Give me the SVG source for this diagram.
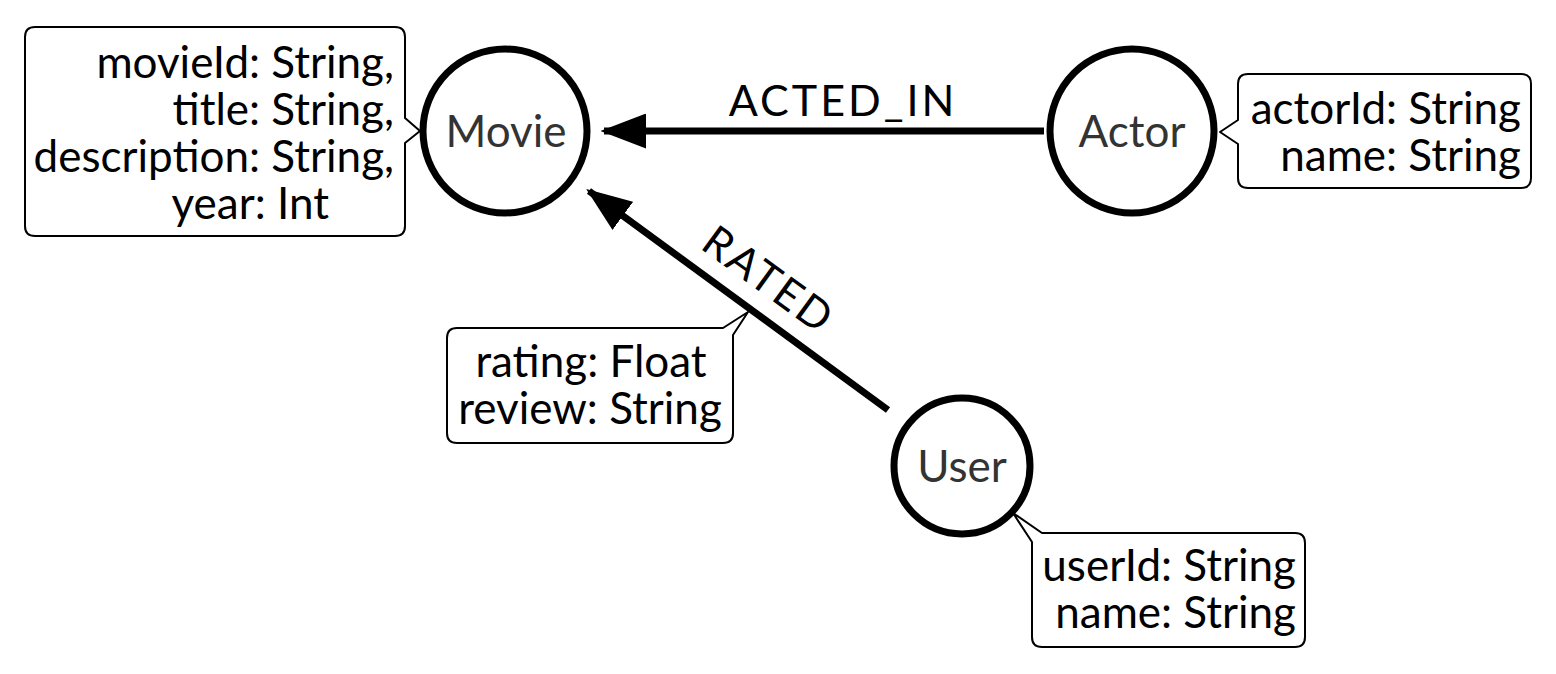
<svg xmlns="http://www.w3.org/2000/svg" width="1556" height="674" viewBox="0 0 1556 674">
<style>
.bg{fill:#ffffff}
.node circle{fill:#ffffff;stroke:#000000;stroke-width:7}
.lbl{font-family:Lato,"Liberation Sans",sans-serif;font-size:44px;fill:#333333;text-anchor:middle}
.prop{fill:#ffffff;stroke:#000000;stroke-width:2;stroke-linejoin:round}
.pt{font-family:Lato,"Liberation Sans",sans-serif;font-size:44px;fill:#000000}
.edge{stroke:#000000;stroke-width:7;fill:none}
.el{font-family:Lato,"Liberation Sans",sans-serif;font-size:43px;letter-spacing:3px;fill:#000000;text-anchor:middle}
</style>
<defs>
<marker id="arr" markerWidth="6.5" markerHeight="5" refX="6" refY="2.5" orient="auto" markerUnits="strokeWidth" viewBox="0 0 6.5 5">
<path d="M0,0 L6.5,2.5 L0,5 Z" fill="#000000"/>
</marker>
</defs>
<rect class="bg" x="0" y="0" width="1556" height="674"/>
<g id="connectors">
<g id="edge-acted-in">
<line class="edge" x1="1044" y1="131" x2="604" y2="131" marker-end="url(#arr)"/>
<text class="el" x="843" y="116">ACTED_IN</text>
</g>
<g id="edge-rated">
<line class="edge" x1="888" y1="410" x2="589" y2="191" marker-end="url(#arr)"/>
<text class="el" x="760" y="292" transform="rotate(36 760 292)">RATED</text>
<path class="prop" d="M457,328 H723 L748,312 L733,335 V433 Q733,443 723,443 H457 Q447,443 447,433 V338 Q447,328 457,328 Z"/>
<text class="pt" x="591" y="377" text-anchor="middle">rating: Float</text>
<text class="pt" x="590" y="424" text-anchor="middle">review: String</text>
</g>
</g>
<g id="node-movie" class="node">
<circle cx="505" cy="131" r="82"/>
<text class="lbl" x="506" y="147">Movie</text>
<path class="prop" d="M35,27 H395 Q405,27 405,37 V118 L420,131 L405,143 V226 Q405,236 395,236 H35 Q25,236 25,226 V37 Q25,27 35,27 Z"/>
<text class="pt" text-anchor="end" x="394" y="78">movieId: String,</text>
<text class="pt" text-anchor="end" x="394" y="125">title: String,</text>
<text class="pt" text-anchor="end" x="394" y="172">description: String,</text>
<text class="pt" text-anchor="end" x="329" y="219">year: Int</text>
</g>
<g id="node-actor" class="node">
<circle cx="1132" cy="131" r="82"/>
<text class="lbl" x="1132" y="147">Actor</text>
<path class="prop" d="M1248,74 H1521 Q1531,74 1531,84 V178 Q1531,188 1521,188 H1248 Q1238,188 1238,178 V144 L1220,132 L1238,120 V84 Q1238,74 1248,74 Z"/>
<text class="pt" text-anchor="end" x="1521" y="124">actorId: String</text>
<text class="pt" text-anchor="end" x="1521" y="171">name: String</text>
</g>
<g id="node-user" class="node">
<circle cx="962" cy="466" r="68"/>
<text class="lbl" x="962" y="482">User</text>
<path class="prop" d="M1042,533 H1295 Q1305,533 1305,543 V637 Q1305,647 1295,647 H1042 Q1032,647 1032,637 V542 L1013,513 Z"/>
<text class="pt" text-anchor="end" x="1296" y="581">userId: String</text>
<text class="pt" text-anchor="end" x="1296" y="628">name: String</text>
</g>
</svg>
